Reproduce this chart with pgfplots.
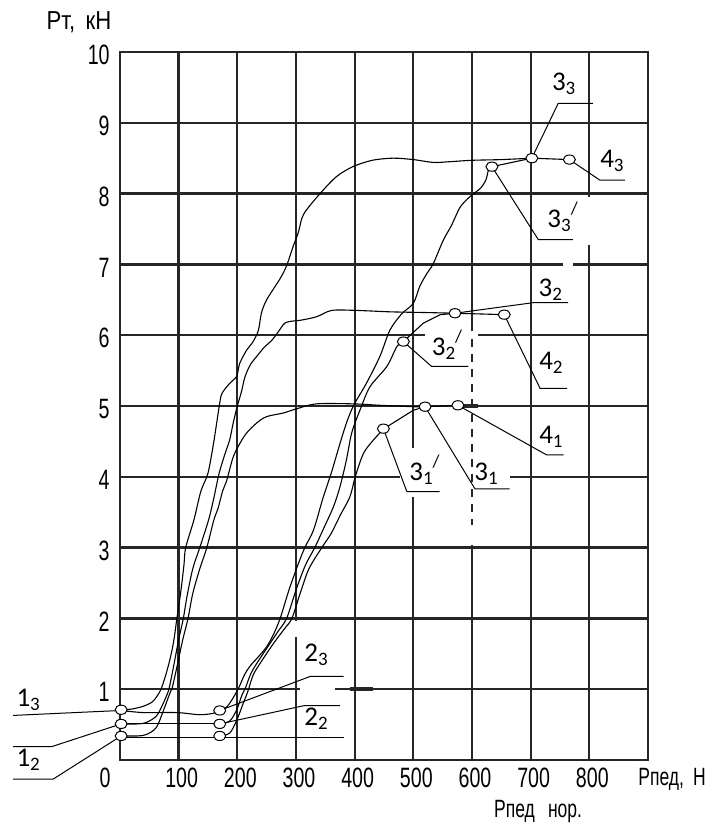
\documentclass[border=0pt]{standalone}
\usepackage{pgfplots}
\pgfplotsset{compat=1.18}
\usepackage{fontspec}
\setmainfont{Liberation Sans}
\newfontfamily\gost[FakeStretch=0.7]{Liberation Sans}
\newfontfamily\gostwide[FakeStretch=0.85]{Liberation Sans}
\newfontfamily\lblfont{Carlito}

% curve labels: digit with index, optional stroke
\newcommand{\lab}[2]{{\lblfont\fontsize{13.5}{14}\selectfont #1\raisebox{-2pt}{\fontsize{9.5}{10}\selectfont #2}}}
\newcommand{\labp}[2]{{\lblfont\fontsize{13.5}{14}\selectfont #1\raisebox{-2pt}{\fontsize{9.5}{10}\selectfont #2}\raisebox{6.5pt}{\fontsize{9}{9}\selectfont /}}}

\begin{document}
\begin{tikzpicture}
\begin{axis}[
  scale only axis, width=264pt, height=354pt,
  xmin=0, xmax=900, ymin=0, ymax=10,
  xtick={100,200,...,800}, ytick={1,...,10},
  grid=major,
  major tick length=0pt,
  grid style={line width=1.15pt, black!85},
  axis line style={line width=1.15pt, black!85},
  tick label style={font=\gost\fontsize{14}{14}\selectfont},
  /pgf/number format/assume math mode=true,
  xticklabel style={inner sep=0pt, yshift=-4pt, xshift=1.5pt},
  yticklabel style={inner sep=0pt, xshift=-5pt, yshift=-1.5pt},
  clip=false,
]
% breaks in the grid under the labels
\fill[white] (axis cs:307,0.94) rectangle (axis cs:366,1.06);
\fill[white] (axis cs:294,1.74) rectangle (axis cs:306,1.965);
\fill[white] (axis cs:494,3.72) rectangle (axis cs:506,4.41);
\fill[white] (axis cs:477,3.94) rectangle (axis cs:665,4.06);
\fill[white] (axis cs:520,5.94) rectangle (axis cs:610,6.06);
\fill[white] (axis cs:594,3.03) rectangle (axis cs:606,3.97);
\fill[white] (axis cs:594,4.03) rectangle (axis cs:606,4.97);
\fill[white] (axis cs:594,5.03) rectangle (axis cs:606,5.94);
\fill[white] (axis cs:794,7.27) rectangle (axis cs:806,7.95);
\fill[white] (axis cs:755,6.94) rectangle (axis cs:772,7.06);
\draw[black!85, line width=1.3pt, dash pattern=on 4pt off 3.5pt] (axis cs:600,5.94) -- (axis cs:600,3.32);
\draw[black!85, line width=1.8pt] (axis cs:392,1) -- (axis cs:431,1);
\draw[black!85, line width=1.8pt] (axis cs:580,5) -- (axis cs:610,5);

% curves rising from the left-hand points
\addplot[smooth, tension=0.5, black, line width=0.55pt] coordinates {
 (2,0.71) (20,0.72) (40,0.76) (55,0.82) (63,0.9) (70,1.0) (78,1.2) (86,1.45)
 (92,1.7) (97,2.0) (104,2.4) (109,2.75) (112,3.0) (126,3.39) (138,3.8) (150,4.05)
 (160,4.5) (170,5.04) (174,5.18) (187,5.32) (199,5.42) (204,5.6) (216,5.79)
 (227,5.91) (236,6.07) (241,6.31) (250,6.5) (273,6.8) (284,6.98) (295,7.25)
 (304,7.45) (310,7.65) (318,7.77) (341,8.0) (369,8.24) (397,8.38) (430,8.47)
 (466,8.5) (500,8.48) (534,8.44) (562,8.45) (600,8.47) (650,8.48) (702,8.5)};
\addplot[smooth, tension=0.5, black, line width=0.55pt] coordinates {
 (2,0.51) (30,0.51) (45,0.53) (62,0.62) (72,0.77) (80,0.92) (84,1.02) (92,1.35)
 (100,1.7) (108,2.0) (114,2.3) (124,2.7) (136,3.0) (151,3.39) (160,3.7) (169,4.05)
 (180,4.35) (187,4.52) (193,4.76) (200,5.0) (207,5.2) (213,5.41) (222,5.58)
 (233,5.7) (246,5.83) (259,5.93) (270,6.05) (281,6.17) (295,6.2) (307,6.21)
 (335,6.26) (361,6.35) (403,6.35) (460,6.33) (520,6.32) (571,6.31)};
\addplot[smooth, tension=0.5, black, line width=0.55pt] coordinates {
 (2,0.34) (30,0.34) (45,0.36) (62,0.46) (75,0.72) (84,0.92) (89,1.02) (98,1.35)
 (107,1.7) (116,2.0) (124,2.35) (136,2.7) (148,3.0) (160,3.39) (167,3.55)
 (175,3.8) (182,3.95) (193,4.28) (205,4.48) (216,4.62) (233,4.76) (250,4.85)
 (278,4.9) (301,4.96) (335,5.03) (398,5.03) (443,5.01) (500,4.99) (520,4.99)};

% curves rising from the second group of points
\addplot[smooth, tension=0.5, black, line width=0.55pt] coordinates {
 (170,0.70) (182,0.75) (193,0.88) (203,1.03) (212,1.2) (222,1.33) (235,1.45)
 (250,1.6) (262,1.78) (273,2.0) (288,2.4) (303,2.75) (315,3.0) (330,3.25)
 (346,3.7) (360,4.05) (375,4.47) (386,4.76) (395,4.95) (403,5.08) (420,5.32)
 (443,5.7) (460,6.07) (480,6.3) (500,6.45) (511,6.69) (523,6.87) (534,7.01)
 (551,7.34) (565,7.55) (580,7.81) (597,7.96) (615,8.08) (624,8.2) (628,8.33)
 (634,8.38)};
\addplot[smooth, tension=0.5, black, line width=0.55pt] coordinates {
 (170,0.51) (187,0.55) (199,0.71) (208,0.92) (214,1.02) (222,1.2) (232,1.35)
 (248,1.55) (268,1.8) (284,2.0) (300,2.4) (316,2.75) (332,3.0) (346,3.25)
 (364,3.58) (375,3.86) (386,4.24) (395,4.62) (409,4.94) (426,5.27) (455,5.56)
 (472,5.84) (483,5.91)};
\addplot[smooth, tension=0.5, black, line width=0.55pt] coordinates {
 (170,0.34) (187,0.38) (199,0.56) (210,0.8) (218,0.97) (227,1.2) (240,1.38)
 (262,1.65) (280,1.85) (293,2.0) (307,2.35) (322,2.7) (344,3.0) (360,3.2)
 (375,3.45) (392,3.72) (401,4.0) (415,4.33) (432,4.52) (450,4.68)};

% joins between the points
\addplot[smooth, tension=0.5, black, line width=0.55pt] coordinates {
 (2,0.70) (40,0.67) (97,0.67) (136,0.64) (159,0.66) (170,0.70)};
\addplot[black, line width=0.55pt] coordinates {(2,0.51) (170,0.51)};
\addplot[black, line width=0.55pt] coordinates {(2,0.32) (381,0.32)};
\addplot[black, line width=0.55pt] coordinates {(634,8.38) (702,8.5) (766,8.48)};
\addplot[black, line width=0.55pt] coordinates {(483,5.91) (517,6.17) (546,6.29) (571,6.31) (655,6.29)};
\addplot[black, line width=0.55pt] coordinates {(450,4.68) (500,4.94) (520,4.99) (576,5.01)};

% leader lines
\draw[black, line width=0.5pt] (axis cs:702,8.5) -- (axis cs:747,9.275) -- (axis cs:806,9.275);
\draw[black, line width=0.5pt] (axis cs:766,8.48) -- (axis cs:818,8.19) -- (axis cs:861,8.19);
\draw[black, line width=0.5pt] (axis cs:634,8.38) -- (axis cs:713,7.35) -- (axis cs:772,7.35);
\draw[black, line width=0.5pt] (axis cs:571,6.31) -- (axis cs:705,6.46) -- (axis cs:764,6.46);
\draw[black, line width=0.5pt] (axis cs:483,5.91) -- (axis cs:531,5.56) -- (axis cs:594,5.56);
\draw[black, line width=0.5pt] (axis cs:655,6.29) -- (axis cs:716,5.25) -- (axis cs:762,5.25);
\draw[black, line width=0.5pt] (axis cs:576,5.01) -- (axis cs:727,4.31) -- (axis cs:756,4.31);
\draw[black, line width=0.5pt] (axis cs:449,4.68) -- (axis cs:489,3.79) -- (axis cs:545,3.79);
\draw[black, line width=0.5pt] (axis cs:520,4.99) -- (axis cs:605,3.83) -- (axis cs:664,3.83);
\draw[black, line width=0.5pt] (axis cs:-182,0.63) -- (axis cs:2,0.70);
\draw[black, line width=0.5pt] (axis cs:-182,0.19) -- (axis cs:-116,0.19) -- (axis cs:2,0.51);
\draw[black, line width=0.5pt] (axis cs:-182,-0.27) -- (axis cs:-114,-0.27) -- (axis cs:2,0.34);
\draw[black, line width=0.5pt] (axis cs:170,0.70) -- (axis cs:324,1.18) -- (axis cs:381,1.18);
\draw[black, line width=0.5pt] (axis cs:170,0.51) -- (axis cs:315,0.77) -- (axis cs:375,0.77);

% points
\addplot[only marks, mark=*, mark size=2.3pt,
  mark options={fill=white, draw=black, line width=0.5pt, xscale=1.3}] coordinates {
 (2,0.71) (2,0.51) (2,0.34) (170,0.70) (170,0.51) (170,0.34)
 (449,4.68) (520,4.99) (576,5.01) (483,5.91) (571,6.31) (655,6.29)
 (634,8.38) (702,8.5) (766,8.48)};

% labels
\node[anchor=base west, inner sep=0pt] at (axis cs:735.7,9.46) {\lab{3}{3}};
\node[anchor=base west, inner sep=0pt] at (axis cs:818,8.37) {\lab{4}{3}};
\node[anchor=base west, inner sep=0pt] at (axis cs:728,7.52) {\labp{3}{3}};
\node[anchor=base west, inner sep=0pt] at (axis cs:713,6.54) {\lab{3}{2}};
\node[anchor=base west, inner sep=0pt] at (axis cs:531,5.72) {\labp{3}{2}};
\node[anchor=base west, inner sep=0pt] at (axis cs:714,5.51) {\lab{4}{2}};
\node[anchor=base west, inner sep=0pt] at (axis cs:714,4.47) {\lab{4}{1}};
\node[anchor=base west, inner sep=0pt] at (axis cs:492.6,3.95) {\labp{3}{1}};
\node[anchor=base west, inner sep=0pt] at (axis cs:603.4,3.95) {\lab{3}{1}};
\node[anchor=base west, inner sep=0pt] at (axis cs:-177,0.75) {\lab{1}{3}};
\node[anchor=base west, inner sep=0pt] at (axis cs:-177,-0.09) {\lab{1}{2}};
\node[anchor=base west, inner sep=0pt] at (axis cs:313.6,1.39) {\lab{2}{3}};
\node[anchor=base west, inner sep=0pt] at (axis cs:313.6,0.49) {\lab{2}{2}};

% axis titles
\node[inner sep=0pt, font=\gostwide\fontsize{13}{13}\selectfont] at (axis cs:-70,10.42) {Рт,\, кН};
\node[inner sep=0pt, font=\gost\fontsize{12.5}{12.5}\selectfont] at (axis cs:941,-0.27) {Рпед,\, Н};
\node[inner sep=0pt, font=\gost\fontsize{12.5}{12.5}\selectfont] at (axis cs:712.6,-0.73) {Рпед\,\, нор.};
\node[inner sep=0pt, font=\gost\fontsize{14}{14}\selectfont] at (axis cs:-25.6,-0.254) {0};

\path (axis cs:-204.5,-0.96) rectangle (axis cs:1009,10.734);
\end{axis}
\end{tikzpicture}
\end{document}
